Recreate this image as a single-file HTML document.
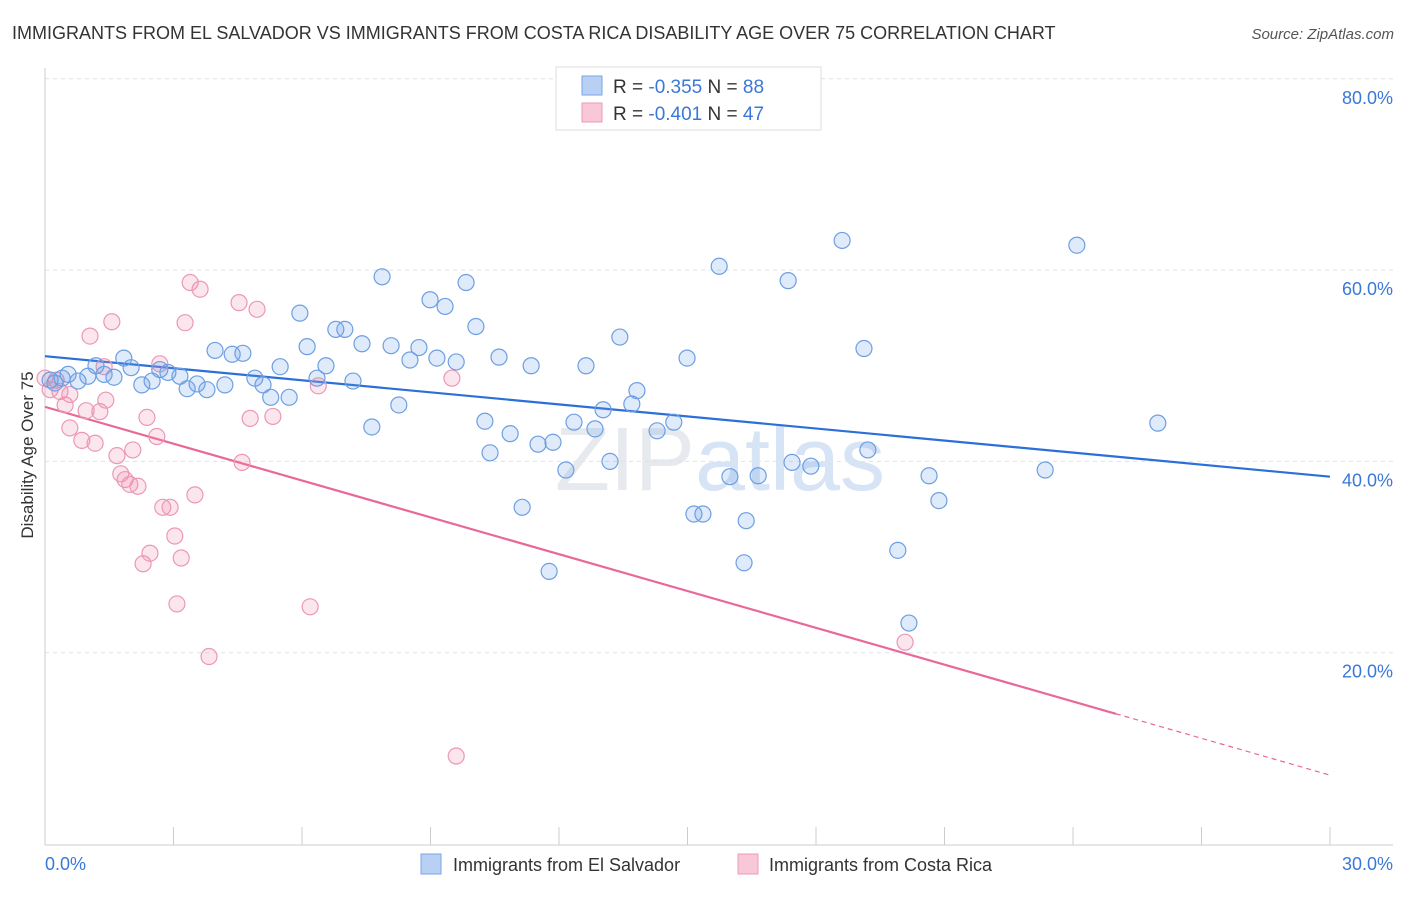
<!DOCTYPE html>
<html><head><meta charset="utf-8"><style>
body{margin:0;background:#fff;font-family:"Liberation Sans",sans-serif;}
svg text{font-family:"Liberation Sans",sans-serif;}
</style></head><body>
<svg id="chart" width="1406" height="892">
<text x="12" y="39" font-size="18" fill="#333">IMMIGRANTS FROM EL SALVADOR VS IMMIGRANTS FROM COSTA RICA DISABILITY AGE OVER 75 CORRELATION CHART</text>
<text x="1394" y="39" font-size="15" fill="#555" font-style="italic" text-anchor="end">Source: ZipAtlas.com</text>
<text x="720" y="490" font-size="90" fill="#e6e9ee" text-anchor="middle" font-family="Liberation Serif">ZIP<tspan font-family="Liberation Sans" fill="#d6e4f5">atlas</tspan></text>
<g id="grid"></g><g id="axes"></g><g id="lines"></g><g id="pts"></g>
<text transform="translate(33,455) rotate(-90)" font-size="17" fill="#333" text-anchor="middle">Disability Age Over 75</text>
<text x="45" y="870" font-size="18" fill="#3a78d8">0.0%</text>
<text x="1393" y="870" font-size="18" fill="#3a78d8" text-anchor="end">30.0%</text>
<g>
<rect x="556" y="67" width="265" height="63" fill="#fff" stroke="#ddd"/>
<rect x="582" y="76" width="20" height="19" fill="#b8d0f3" stroke="#7aa6e6"/>
<rect x="582" y="103" width="20" height="19" fill="#f9c8d8" stroke="#eb9ab7"/>
<text x="613" y="93" font-size="19" fill="#333">R = <tspan fill="#3a78d8">-0.355</tspan>   N = <tspan fill="#3a78d8">88</tspan></text>
<text x="613" y="120" font-size="19" fill="#333">R = <tspan fill="#3a78d8">-0.401</tspan>   N = <tspan fill="#3a78d8">47</tspan></text>
</g>
<g>
<rect x="421" y="854" width="20" height="20" fill="#b8d0f3" stroke="#7aa6e6"/>
<text x="453" y="871" font-size="18" fill="#333">Immigrants from El Salvador</text>
<rect x="738" y="854" width="20" height="20" fill="#f9c8d8" stroke="#eb9ab7"/>
<text x="769" y="871" font-size="18" fill="#333">Immigrants from Costa Rica</text>
</g>
</svg>
<script>
const yTicks=[20,40,60,80];
const yTickLabels=["20.0%","40.0%","60.0%","80.0%"];
const xTicks=[0,3,6,9,12,15,18,21,24,27,30];
const blueX=[0.12,0.23,0.40,0.54,0.77,1.00,1.19,1.38,1.61,1.84,2.01,2.26,2.50,2.68,2.87,3.15,3.32,3.55,3.78,3.97,4.20,4.37,4.62,4.90,5.09,5.27,5.49,5.70,5.95,6.12,6.35,6.56,6.79,7.00,7.19,7.40,7.63,7.87,8.08,8.26,8.52,8.73,8.99,9.15,9.34,9.60,9.83,10.06,10.27,10.39,10.60,10.86,11.14,11.35,11.51,11.77,11.86,12.16,12.35,12.63,12.84,13.03,13.19,13.42,13.70,13.82,14.29,14.68,14.99,15.15,15.36,15.74,15.99,16.37,16.32,16.65,17.35,17.44,17.88,18.61,19.12,19.21,19.91,20.17,20.64,20.87,23.35,24.09,25.98];
const blueY=[48.5,48.2,48.7,49.1,48.4,48.9,50.0,49.1,48.8,50.8,49.8,48.0,48.4,49.6,49.3,48.9,47.6,48.1,47.5,51.6,48.0,51.2,51.3,48.7,48.0,46.7,49.9,46.7,55.5,52.0,48.7,50.0,53.8,53.8,48.4,52.3,43.6,59.3,52.1,45.9,50.6,51.9,56.9,50.8,56.2,50.4,58.7,54.1,44.2,40.9,50.9,42.9,35.2,50.0,41.8,28.5,42.0,39.1,44.1,50.0,43.4,45.4,40.0,53.0,46.0,47.4,43.2,44.1,50.8,34.5,34.5,60.4,38.4,33.8,29.4,38.5,58.9,39.9,39.5,63.1,51.8,41.2,30.7,23.1,38.5,35.9,39.1,62.6,44.0];
const pinkX=[0.00,0.12,0.26,0.35,0.47,0.58,0.58,0.86,0.96,1.05,1.17,1.28,1.38,1.42,1.56,1.68,1.77,1.87,1.98,2.05,2.17,2.29,2.38,2.45,2.61,2.68,2.75,2.92,3.03,3.08,3.18,3.27,3.39,3.50,3.62,3.83,4.53,4.60,4.79,4.95,5.32,6.19,6.38,9.50,9.60,20.08];
const pinkY=[48.7,47.5,48.5,47.3,45.9,47.0,43.5,42.2,45.3,53.1,41.9,45.2,49.9,46.4,54.6,40.6,38.7,38.1,37.6,41.2,37.4,29.3,44.6,30.4,42.6,50.2,35.2,35.2,32.2,25.1,29.9,54.5,58.7,36.5,58.0,19.6,56.6,39.9,44.5,55.9,44.7,24.8,47.9,48.7,9.2,21.1];
const blueFit=[51.0,38.4];
const pinkFit=[45.7,7.2];
const pinkSolidEnd=25.0;
const NS="http://www.w3.org/2000/svg";
const X=v=>45+v/30*1285;
const Y=v=>844-v/20*191.3;
function mk(t,p,a){const e=document.createElementNS(NS,t);for(const k in a)e.setAttribute(k,a[k]);p.appendChild(e);return e;}
const grid=document.getElementById('grid'),axes=document.getElementById('axes'),lines=document.getElementById('lines'),pts=document.getElementById('pts');
yTicks.forEach((t,i)=>{
 const l=mk('line',grid,{x1:45,x2:1393,y1:Y(t),y2:Y(t),stroke:'#dde3ea','stroke-dasharray':'4,4'});
 
 
 const tx=mk('text',grid,{x:1393,y:Y(t)+25,'font-size':18,fill:'#3a78d8','text-anchor':'end'});
 tx.textContent=yTickLabels[i];
 
 
});
const ax=mk('line',axes,{x1:45,x2:1393,y1:845,y2:845,stroke:'#ccc'});


const ay=mk('line',axes,{x1:45,x2:45,y1:68,y2:845,stroke:'#ccc'});


xTicks.forEach(t=>{const l=mk('line',axes,{x1:X(t),x2:X(t),y1:827,y2:845,stroke:'#ccc'});
 
 });
function dots(xs,ys,fill,stroke,name){xs.forEach((x,i)=>{const c=mk('circle',pts,{cx:X(x),cy:Y(ys[i]),r:8,fill:fill,stroke:stroke,'stroke-width':1.2});
 
 });}
dots(pinkX,pinkY,'rgba(240,140,175,0.22)','#ec97b5','costa-rica-point');
dots(blueX,blueY,'rgba(110,160,230,0.22)','#6d9fe2','el-salvador-point');
const bl=mk('line',lines,{x1:X(0),y1:Y(blueFit[0]),x2:X(30),y2:Y(blueFit[1]),stroke:'#2c6fd8','stroke-width':2.2});


const pAt=x=>pinkFit[0]+(pinkFit[1]-pinkFit[0])*x/30;
const pl=mk('line',lines,{x1:X(0),y1:Y(pinkFit[0]),x2:X(pinkSolidEnd),y2:Y(pAt(pinkSolidEnd)),stroke:'#e8689a','stroke-width':2.2});


const pd=mk('line',lines,{x1:X(pinkSolidEnd),y1:Y(pAt(pinkSolidEnd)),x2:X(30),y2:Y(pinkFit[1]),stroke:'#e8689a','stroke-width':1.2,'stroke-dasharray':'5,4'});


</script>
</body></html>
